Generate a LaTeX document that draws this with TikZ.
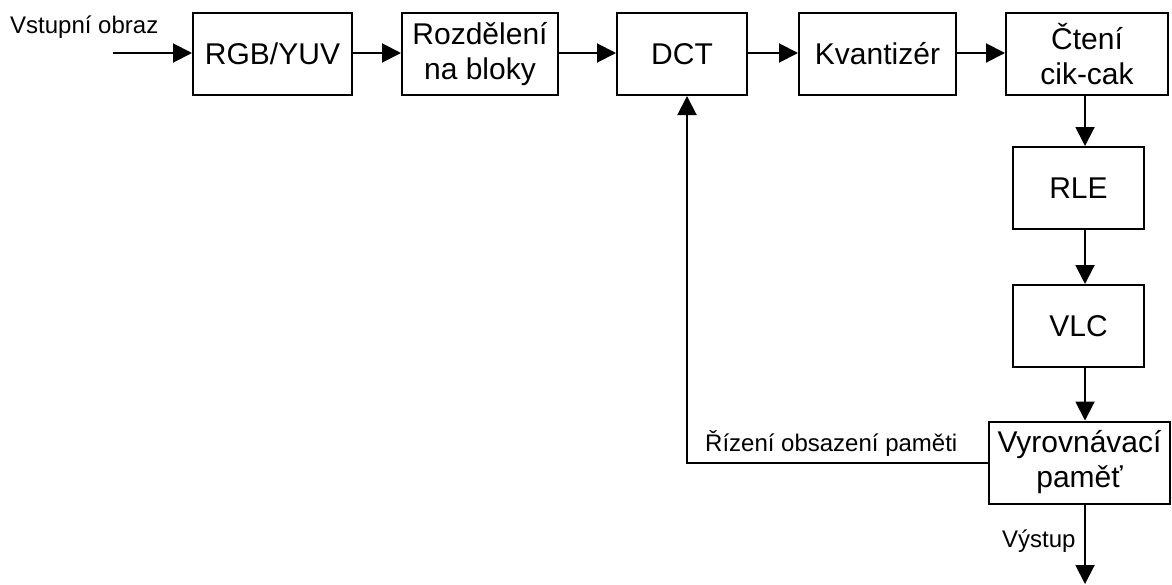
\documentclass[tikz,border=0pt]{standalone}
\usepackage{fontspec}
\setmainfont{Liberation Sans}
\usetikzlibrary{arrows.meta}
\begin{document}
\begin{tikzpicture}[x=1pt,y=-1pt,
  blk/.style={draw, line width=2pt, inner sep=0pt, minimum height=82pt,
    align=center, font=\fontsize{30}{35}\selectfont},
  lbl/.style={inner sep=0pt, font=\fontsize{24}{28}\selectfont},
  flow/.style={line width=2pt, -{Triangle[length=19pt,width=19pt]}},
  wire/.style={line width=2pt}]
\useasboundingbox (0,0) rectangle (1172,584);

% main chain along the top
\node[blk, minimum width=159pt] (rgb)  at (272.5,54) {RGB/YUV};
\node[blk, minimum width=156pt] (rozd) at (480,54)   {Rozdělení\\na bloky};
\node[blk, minimum width=130pt] (dct)  at (682,54)   {DCT};
\node[blk, minimum width=157pt] (kv)   at (877.5,54) {Kvantizér};
\node[blk, minimum width=162pt] (cten) at (1087,54)  {Čtení\\cik-cak};

% column going down
\node[blk, minimum width=131pt] (rle)  at (1078.5,188) {RLE};
\node[blk, minimum width=131pt] (vlc)  at (1078.5,326) {VLC};
\node[blk, minimum width=181pt] (buf)  at (1079.5,462.5) {Vyrovnávací\\paměť};

\coordinate (colx) at (1085,0);
\coordinate (in)   at (113,53);
\coordinate (out)  at (1085,584);
\coordinate (fbx)  at (687,0);

% labels
\node[lbl, anchor=base west] (tin)  at (10,33)   {Vstupní obraz};
\node[lbl, anchor=base west] (tfb)  at (705,451) {Řízení obsazení paměti};
\node[lbl, anchor=base west] (tout) at (1002,547) {Výstup};

% connectors
\draw[flow] (in) -- (rgb.west |- in);
\draw[flow] (rgb.east |- in) -- (rozd.west |- in);
\draw[flow] (rozd.east |- in) -- (dct.west |- in);
\draw[flow] (dct.east |- in) -- (kv.west |- in);
\draw[flow] (kv.east |- in) -- (cten.west |- in);
\draw[flow] (cten.south -| colx) -- (rle.north -| colx);
\draw[flow] (rle.south -| colx) -- (vlc.north -| colx);
\draw[flow] (vlc.south -| colx) -- (buf.north -| colx);
\draw[flow] (buf.south -| colx) -- (out);
\draw[flow] (buf.west) -- (buf.west -| fbx) -- (dct.south -| fbx);
\end{tikzpicture}
\end{document}
